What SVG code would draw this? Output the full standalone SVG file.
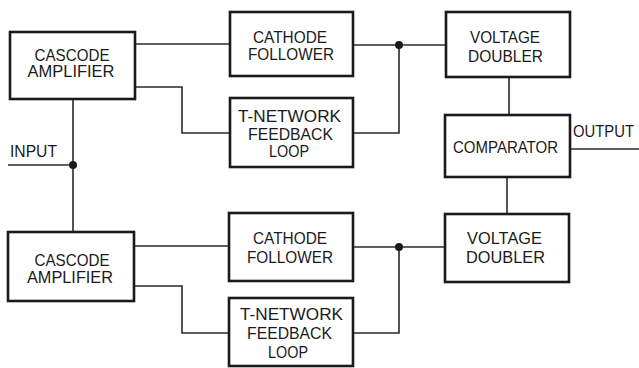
<svg xmlns="http://www.w3.org/2000/svg" width="639" height="368" viewBox="0 0 639 368">
<style>
.box{fill:#fff;stroke:#1a1a1a;stroke-width:2.6}
.wire{fill:none;stroke:#2a2a2a;stroke-width:1.6}
.dot{fill:#1a1a1a}
text{font-family:"Liberation Sans","DejaVu Sans",sans-serif;font-size:17px;fill:#1a1a1a;text-anchor:middle}
.l{text-anchor:start}
</style>
<rect width="639" height="368" fill="#fff"/>
<g id="connectors">
<path class="wire" d="M135,44 H230"/>
<path class="wire" d="M135,87 H182 V133 H230"/>
<path class="wire" d="M353,45 H446"/>
<path class="wire" d="M353,133 H399 V45"/>
<circle class="dot" cx="399" cy="45" r="4"/>
<path class="wire" d="M509,77 V115"/>
<path class="wire" d="M507,177 V214"/>
<path class="wire" d="M570,149 H639"/>
<path class="wire" d="M8,165 H73"/>
<path class="wire" d="M73,99 V232"/>
<circle class="dot" cx="73" cy="165" r="4"/>
<path class="wire" d="M134,246 H229"/>
<path class="wire" d="M134,286 H182 V333 H229"/>
<path class="wire" d="M353,247 H445"/>
<path class="wire" d="M353,333 H399 V247"/>
<circle class="dot" cx="399" cy="247" r="4"/>
</g>
<g id="input-label"><text class="l" x="10" y="157" textLength="47" lengthAdjust="spacingAndGlyphs">INPUT</text></g>
<g id="output-label"><text class="l" x="573" y="137" textLength="61" lengthAdjust="spacingAndGlyphs">OUTPUT</text></g>
<g id="cascode1">
<rect class="box" x="10" y="32" width="125" height="67"/>
<text x="72" y="61" textLength="75" lengthAdjust="spacingAndGlyphs">CASCODE</text>
<text x="71" y="77" textLength="87" lengthAdjust="spacingAndGlyphs">AMPLIFIER</text>
</g>
<g id="cathode1">
<rect class="box" x="230" y="12" width="123" height="64"/>
<text x="290" y="43" textLength="74" lengthAdjust="spacingAndGlyphs">CATHODE</text>
<text x="291" y="60" textLength="86" lengthAdjust="spacingAndGlyphs">FOLLOWER</text>
</g>
<g id="tnet1">
<rect class="box" x="230" y="98" width="123" height="69"/>
<text x="289.5" y="122" textLength="103" lengthAdjust="spacingAndGlyphs">T-NETWORK</text>
<text x="290.5" y="140" textLength="85" lengthAdjust="spacingAndGlyphs">FEEDBACK</text>
<text x="289" y="157" textLength="40" lengthAdjust="spacingAndGlyphs">LOOP</text>
</g>
<g id="doubler1">
<rect class="box" x="446" y="12" width="124" height="65"/>
<text x="505" y="43" textLength="70" lengthAdjust="spacingAndGlyphs">VOLTAGE</text>
<text x="505.5" y="62" textLength="75" lengthAdjust="spacingAndGlyphs">DOUBLER</text>
</g>
<g id="comparator">
<rect class="box" x="445" y="115" width="125" height="62"/>
<text x="505.5" y="153" textLength="105" lengthAdjust="spacingAndGlyphs">COMPARATOR</text>
</g>
<g id="cascode2">
<rect class="box" x="8" y="232" width="126" height="69"/>
<text x="72" y="266" textLength="75" lengthAdjust="spacingAndGlyphs">CASCODE</text>
<text x="70" y="283" textLength="86" lengthAdjust="spacingAndGlyphs">AMPLIFIER</text>
</g>
<g id="cathode2">
<rect class="box" x="229" y="213" width="124" height="68"/>
<text x="290" y="244" textLength="74" lengthAdjust="spacingAndGlyphs">CATHODE</text>
<text x="290" y="263" textLength="86" lengthAdjust="spacingAndGlyphs">FOLLOWER</text>
</g>
<g id="tnet2">
<rect class="box" x="229" y="298" width="124" height="68"/>
<text x="291.5" y="320" textLength="103" lengthAdjust="spacingAndGlyphs">T-NETWORK</text>
<text x="289.5" y="339" textLength="85" lengthAdjust="spacingAndGlyphs">FEEDBACK</text>
<text x="288" y="358" textLength="40" lengthAdjust="spacingAndGlyphs">LOOP</text>
</g>
<g id="doubler2">
<rect class="box" x="445" y="214" width="124" height="68"/>
<text x="504.5" y="244" textLength="75" lengthAdjust="spacingAndGlyphs">VOLTAGE</text>
<text x="505.5" y="263" textLength="79" lengthAdjust="spacingAndGlyphs">DOUBLER</text>
</g>
</svg>
